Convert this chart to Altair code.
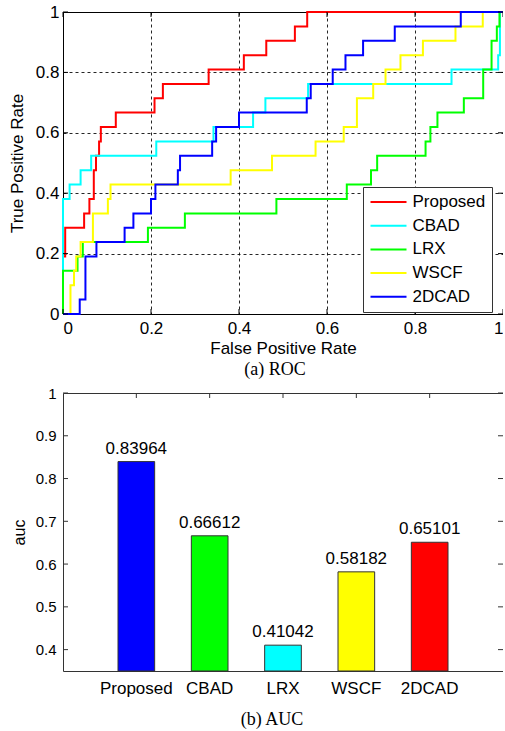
import altair as alt
import pandas as pd

# ---------------- data ----------------
SERIES = ["Proposed", "CBAD", "LRX", "WSCF", "2DCAD"]
ROC_COLORS = ["#FF0000", "#00FFFF", "#00FF00", "#FFFF00", "#0000FF"]

# ROC operating points (curve jumps up to TPR at each FPR; drawn as step-after)
PROPOSED_FPR = [0, 0, 0.005, 0.048, 0.06, 0.07, 0.075, 0.082, 0.086, 0.12, 0.208, 0.227, 0.331, 0.411, 0.462, 0.527, 0.555, 1.0]
PROPOSED_TPR = [0, 0.19, 0.286, 0.333, 0.381, 0.476, 0.524, 0.571, 0.619, 0.667, 0.714, 0.762, 0.81, 0.857, 0.905, 0.952, 1.0, 1.0]

CBAD_FPR = [0, 0, 0.015, 0.04, 0.064, 0.212, 0.342, 0.432, 0.46, 0.557, 0.883, 0.989, 0.993, 1.0]
CBAD_TPR = [0, 0.381, 0.429, 0.476, 0.524, 0.571, 0.619, 0.667, 0.714, 0.762, 0.81, 0.857, 1.0, 1.0]

LRX_FPR = [0, 0, 0.033, 0.045, 0.193, 0.277, 0.485, 0.645, 0.70, 0.714, 0.824, 0.835, 0.851, 0.911, 0.955, 0.974, 0.986, 0.992, 1.0]
LRX_TPR = [0, 0.143, 0.19, 0.238, 0.286, 0.333, 0.381, 0.429, 0.476, 0.524, 0.571, 0.619, 0.667, 0.714, 0.81, 0.905, 0.952, 1.0, 1.0]

WSCF_FPR = [0, 0.017, 0.025, 0.03, 0.04, 0.068, 0.102, 0.108, 0.381, 0.475, 0.574, 0.638, 0.668, 0.705, 0.733, 0.767, 0.818, 0.892, 0.954, 1.0]
WSCF_TPR = [0, 0.095, 0.143, 0.19, 0.238, 0.333, 0.381, 0.429, 0.476, 0.524, 0.571, 0.619, 0.714, 0.762, 0.81, 0.857, 0.905, 0.952, 1.0, 1.0]

DCAD_FPR = [0, 0.038, 0.051, 0.076, 0.14, 0.16, 0.2, 0.21, 0.261, 0.266, 0.339, 0.348, 0.4, 0.554, 0.563, 0.613, 0.642, 0.682, 0.754, 0.904, 1.0]
DCAD_TPR = [0, 0.048, 0.19, 0.238, 0.286, 0.333, 0.381, 0.429, 0.476, 0.524, 0.571, 0.619, 0.667, 0.714, 0.762, 0.81, 0.857, 0.905, 0.952, 1.0, 1.0]

ROC_TICKS = [0, 0.2, 0.4, 0.6, 0.8, 1.0]

AUC_METHODS = ["Proposed", "CBAD", "LRX", "WSCF", "2DCAD"]
AUC_VALUES = [0.83964, 0.66612, 0.41042, 0.58182, 0.65101]
AUC_COLORS = ["#0000FF", "#00FF00", "#00FFFF", "#FFFF00", "#FF0000"]
AUC_TICKS = [0.4, 0.5, 0.6, 0.7, 0.8, 0.9, 1.0]

# ---------------- tables ----------------
curves = [
    ("Proposed", PROPOSED_FPR, PROPOSED_TPR),
    ("CBAD", CBAD_FPR, CBAD_TPR),
    ("LRX", LRX_FPR, LRX_TPR),
    ("WSCF", WSCF_FPR, WSCF_TPR),
    ("2DCAD", DCAD_FPR, DCAD_TPR),
]
rows = []
for name, fx, ty in curves:
    for i, (a, b) in enumerate(zip(fx, ty)):
        rows.append({"series": name, "idx": i, "fpr": a, "tpr": b})
roc_df = pd.DataFrame(rows)
roc_ticks = pd.DataFrame({"fpr": ROC_TICKS, "tpr": ROC_TICKS})

auc_df = pd.DataFrame({"method": AUC_METHODS, "auc": AUC_VALUES})
auc_ticks = pd.DataFrame({"auc": AUC_TICKS})

SANS = "Liberation Sans"
SERIF = "Liberation Serif"
W1, H1 = 440, 302
W2, H2 = 440, 278
TL = 5  # inward tick length (px)

# ---------------- ROC panel ----------------
xenc = alt.X(
    "fpr:Q",
    scale=alt.Scale(domain=[0, 1], nice=False),
    axis=alt.Axis(values=ROC_TICKS, format="~g", title="False Positive Rate",
                  grid=True, gridDash=[3, 3], gridColor="#000000", gridOpacity=0.85,
                  ticks=False, domain=False, labelFontSize=17, labelPadding=6,
                  titleFontSize=17, titlePadding=4),
)
yenc = alt.Y(
    "tpr:Q",
    scale=alt.Scale(domain=[0, 1], nice=False),
    axis=alt.Axis(values=ROC_TICKS, format="~g", title="True Positive Rate",
                  grid=True, gridDash=[3, 3], gridColor="#000000", gridOpacity=0.85,
                  ticks=False, domain=False, labelFontSize=17, labelPadding=4,
                  titleFontSize=17, titlePadding=9),
)

lines = alt.Chart(roc_df).mark_line(interpolate="step-after", strokeWidth=2).encode(
    x=xenc,
    y=yenc,
    color=alt.Color(
        "series:N",
        scale=alt.Scale(domain=SERIES, range=ROC_COLORS),
        legend=alt.Legend(
            orient="none", legendX=300, legendY=175, title=None,
            symbolType="stroke", symbolSize=1296, symbolStrokeWidth=2,
            clipHeight=17, rowPadding=5.7, padding=6.5, labelOffset=5,
            labelFontSize=17, labelFont=SANS, labelColor="black",
            strokeColor="#333333", fillColor="white",
        ),
    ),
    order=alt.Order("idx:Q"),
)

t_left = alt.Chart(roc_ticks).mark_rule(color="black").encode(y=yenc, x=alt.value(0), x2=alt.value(TL))
t_right = alt.Chart(roc_ticks).mark_rule(color="black").encode(y=yenc, x=alt.value(W1 - TL), x2=alt.value(W1))
t_bottom = alt.Chart(roc_ticks).mark_rule(color="black").encode(x=xenc, y=alt.value(H1 - TL), y2=alt.value(H1))
t_top = alt.Chart(roc_ticks).mark_rule(color="black").encode(x=xenc, y=alt.value(0), y2=alt.value(TL))

roc = alt.layer(lines, t_left, t_right, t_bottom, t_top).properties(
    width=W1, height=H1,
    view=alt.ViewBackground(stroke="black", strokeWidth=1, fill="white"),
    title=alt.TitleParams("(a) ROC", orient="bottom", font=SERIF, fontSize=18,
                          fontWeight="normal", color="black", offset=5, dx=-8),
)

# ---------------- AUC panel ----------------
x2enc = alt.X(
    "method:N", sort=AUC_METHODS,
    scale=alt.Scale(domain=AUC_METHODS, paddingInner=0.5, paddingOuter=0.75),
    axis=alt.Axis(title=None, labelAngle=0, ticks=False, domain=False,
                  labelFontSize=17, labelPadding=9),
)
y2enc = alt.Y(
    "auc:Q",
    scale=alt.Scale(domain=[0.35, 1], nice=False, zero=False),
    axis=alt.Axis(values=AUC_TICKS, format="~g", title="auc", grid=False,
                  ticks=False, domain=False, labelFontSize=15, labelPadding=7,
                  titleFontSize=16, titlePadding=8),
)

bars = alt.Chart(auc_df).mark_bar(stroke="#333333", strokeWidth=1).encode(
    x=x2enc,
    y=y2enc,
    y2=alt.datum(0.35),
    color=alt.Color("method:N", scale=alt.Scale(domain=AUC_METHODS, range=AUC_COLORS), legend=None),
)
vals = alt.Chart(auc_df).mark_text(dy=-8, baseline="alphabetic", fontSize=17, font=SANS, color="black").encode(
    x=x2enc,
    y=y2enc,
    text=alt.Text("auc:Q", format=".5f"),
)
a_left = alt.Chart(auc_ticks).mark_rule(color="#333333").encode(y=y2enc, x=alt.value(0), x2=alt.value(TL))
a_right = alt.Chart(auc_ticks).mark_rule(color="#333333").encode(y=y2enc, x=alt.value(W2 - TL), x2=alt.value(W2))
a_top = alt.Chart(auc_df).mark_rule(color="#333333").encode(x=x2enc, y=alt.value(0), y2=alt.value(TL))

aucc = alt.layer(bars, vals, a_left, a_right, a_top).properties(
    width=W2, height=H2,
    view=alt.ViewBackground(stroke="#333333", strokeWidth=1, fill="white"),
    title=alt.TitleParams("(b) AUC", orient="bottom", font=SERIF, fontSize=18,
                          fontWeight="normal", color="black", offset=15, dx=-11),
)

chart = alt.vconcat(roc, aucc, spacing=5).resolve_scale(color="independent").properties(
    padding={"left": 7, "top": 2, "right": -5, "bottom": 0},
    background="white",
).configure_axis(
    labelFont=SANS, titleFont=SANS, labelColor="black", titleColor="black",
    titleFontWeight="normal",
).configure_view(stroke="black")

chart.save("out.html", embed_options={"renderer": "svg", "actions": False})
